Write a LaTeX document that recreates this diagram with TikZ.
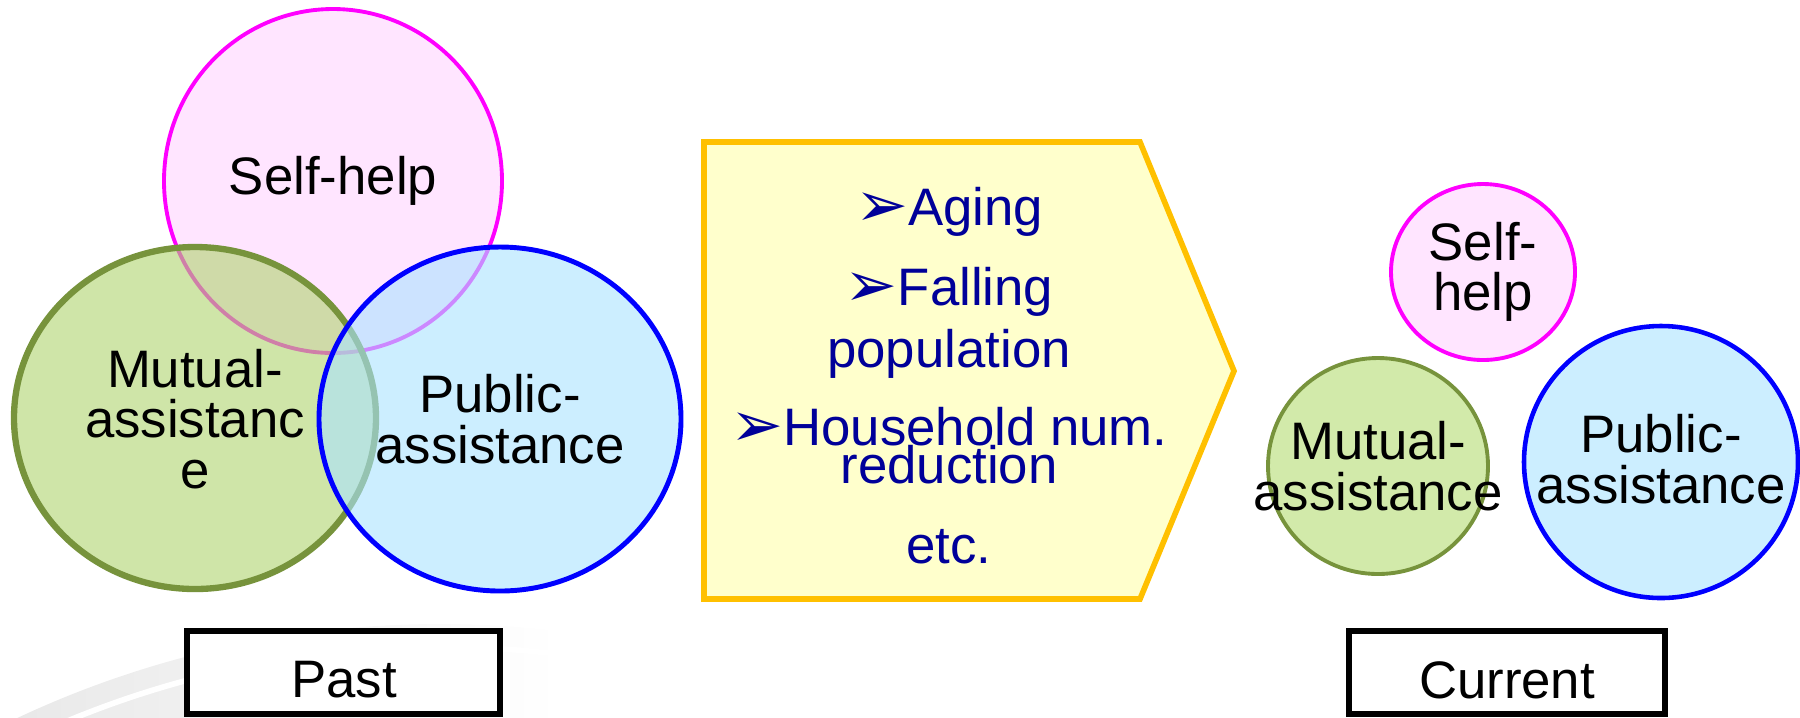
\documentclass[tikz,border=0pt]{standalone}
\usepackage{fontspec}
\setmainfont{Liberation Sans}
\newfontfamily\dejavu{DejaVu Sans}
\definecolor{pinkline}{RGB}{255,0,255}
\definecolor{pinkfill}{RGB}{255,229,255}
\definecolor{greenline}{RGB}{119,147,60}
\definecolor{greenfill}{RGB}{175,212,110}
\definecolor{greenfillsolid}{RGB}{210,234,170}
\definecolor{blueline}{RGB}{0,0,255}
\definecolor{bluefill}{RGB}{170,227,255}
\definecolor{bluefillsolid}{RGB}{204,238,255}
\definecolor{goldline}{RGB}{255,192,0}
\definecolor{lightyellow}{RGB}{255,255,204}
\definecolor{navy}{RGB}{0,0,153}
\definecolor{wmgray}{RGB}{232,232,232}
\tikzset{
  lbl/.style={font=\fontsize{15}{14.4}\selectfont, align=center, inner sep=0pt, text=black},
  bul/.style={font=\fontsize{15}{14.4}\selectfont, align=center, inner sep=0pt, text=navy},
  framebox/.style={draw=black, line width=1.5pt, fill=white, inner sep=0pt},
  pentagon/.style={draw=goldline, line width=1.6pt, fill=lightyellow, line join=miter},
}
\newcommand{\arrbul}{{\dejavu\fontsize{18}{18}\selectfont\raisebox{-0.3pt}{➢}}}
\begin{document}
\begin{tikzpicture}[x=0.01cm,y=-0.01cm]
\useasboundingbox (0,0) rectangle (1800,717);
% watermark swoosh
\begin{scope}
  \clip (440,1619) circle[radius=995];
  \shade[left color=wmgray, right color=white] (0,600) rectangle (560,717);
\end{scope}
\draw[white, line width=1.6pt] (440,1619) circle[radius=972];

% Past circles
\draw[draw=pinkline, fill=pinkfill, line width=1.1pt] (333,181) ellipse[x radius=169, y radius=172];
\draw[draw=greenline, fill=greenfill, fill opacity=0.6, line width=1.8pt] (195,418) ellipse[x radius=181, y radius=171];
\draw[draw=blueline, fill=bluefill, fill opacity=0.6, line width=1.4pt] (500,419) ellipse[x radius=181, y radius=172];

\node[lbl] (pself) at (333,181) {Self-help};
\node[lbl] (pmutual) at (195,419) {Mutual-\\assistanc\\e};
\node[lbl] (ppublic) at (500,419) {Public-\\assistance};

\node[framebox, minimum width=3.13cm, minimum height=0.83cm] (pastbox) at (343.5,672.5) {};
\node[lbl] (past) at (344,680) {Past};

% Arrow
\draw[pentagon] (704,142) -- (1140,142) -- (1234,371) -- (1140,599) -- (704,599) -- cycle;
\node[bul, anchor=base] (aging) at (949,225) {\arrbul Aging};
\node[bul, anchor=base] (falling) at (949,305) {\arrbul Falling};
\node[bul, anchor=base] (population) at (949,367) {population};
\node[bul, anchor=base] (household) at (949,445) {\arrbul Household num.};
\node[bul, anchor=base] (reduction) at (949,483) {reduction};
\node[bul, anchor=base] (etc) at (949,563) {etc.};

% Current circles
\draw[draw=pinkline, fill=pinkfill, line width=1.1pt] (1483,272) ellipse[x radius=92, y radius=88];
\draw[draw=greenline, fill=greenfillsolid, line width=1.1pt] (1378,466) ellipse[x radius=110, y radius=108];
\draw[draw=blueline, fill=bluefillsolid, line width=1.3pt] (1661,462) ellipse[x radius=137, y radius=136];

\node[lbl] (cself) at (1483,272) {Self-\\help};
\node[lbl] (cmutual) at (1378,466) {Mutual-\\assistance};
\node[lbl] (cpublic) at (1661,459) {Public-\\assistance};

\node[framebox, minimum width=3.16cm, minimum height=0.83cm] (curbox) at (1507,672.5) {};
\node[lbl] (current) at (1507,680) {Current};
\end{tikzpicture}
\end{document}
